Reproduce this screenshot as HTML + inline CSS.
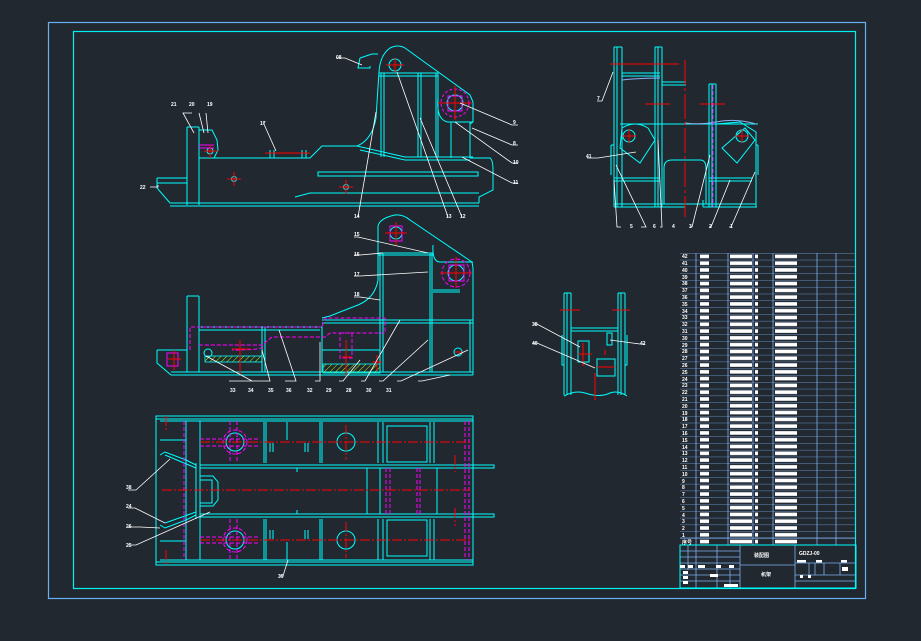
<!DOCTYPE html>
<html><head><meta charset="utf-8"><style>
html,body{margin:0;padding:0;background:#212830;}
svg{display:block}
text{font-family:"Liberation Sans","Noto Sans CJK SC",sans-serif;fill:#fff;font-size:5px;font-weight:bold}
</style></head><body>
<svg width="921" height="641" viewBox="0 0 921 641" xmlns="http://www.w3.org/2000/svg">
<defs>
<pattern id="rows" x="680" y="253" width="176" height="6.79" patternUnits="userSpaceOnUse">
<line x1="0" y1="0" x2="176" y2="0" stroke="#7fb0f0" stroke-width="0.8"/>
<rect x="20" y="1.6" width="9" height="3.6" fill="#fff"/>
<rect x="50" y="1.6" width="22" height="3.6" fill="#fff"/>
<rect x="75" y="1.6" width="3" height="3.6" fill="#fff"/>
<rect x="95" y="1.6" width="22" height="3.6" fill="#fff"/>
</pattern>
<pattern id="hatch" width="4" height="4" patternUnits="userSpaceOnUse" patternTransform="rotate(45)">
<line x1="0" y1="0" x2="0" y2="4" stroke="#b0ff00" stroke-width="1"/>
</pattern>
</defs>
<rect width="921" height="641" fill="#212830"/>
<!-- frames -->
<rect x="48.5" y="22.5" width="817" height="576" fill="none" stroke="#6ab0f5" stroke-width="1.2"/>
<rect x="73.5" y="31.5" width="782" height="557" fill="none" stroke="#00f0f0" stroke-width="1.2"/>

<g fill="none" stroke="#00ffff" stroke-width="1">
<!-- VIEW 1 -->
<path d="M170 206 H479 M170 203 H479"/>
<path d="M187 127 V205 M199 127 V205 M187 127 H199"/>
<path d="M157 178 H187 M157 183 H187 M157 178 V188 L170 203"/>
<path d="M199 130 H212 L217 140 L218 150 L214 158"/>
<path d="M199 158 H310 L322 146 H357 Q372 140 376 118 L379 72"/>
<path d="M379 72 Q380 55 390 48 Q398 44 405 48 L470 95 L473 102 V122 L470 124 V158"/>
<path d="M379 73 H438 M379 76 H438 M381 73 V157 M384 73 V157 M418 73 V157 M421 73 V157 M436 73 V157 M438 73 V157"/>
<path d="M438 98 Q436 120 448 122 H473 M451 122 V158 M470 122 V158"/>
<path d="M357 146 L405 157 H473 M360 150 L405 160 H470"/>
<path d="M470 158 H490 Q493 160 493 170 V190 L479 197 V203"/>
<path d="M318 172 H478 V176 H318 Z"/>
<path d="M295 197 L310 193 H479"/>
<path d="M360 58 L372 54 H378 M360 58 L358 68 H370 V66"/>
<path d="M270 150 V158 M274 150 V158 M302 150 V158 M306 150 V158"/>
<circle cx="395" cy="65" r="6"/><circle cx="210" cy="151" r="3"/>
<circle cx="455" cy="103" r="8"/><circle cx="234" cy="179" r="2.5"/><circle cx="346" cy="187" r="2.5"/>
</g>
<g stroke="#ff00ff" fill="none" stroke-width="1"><circle cx="455" cy="103" r="14" stroke-dasharray="3 2"/><rect x="448" y="96" width="14" height="15"/><path d="M199 145 H214 M199 148 H214"/></g>
<g stroke="#ff0000" stroke-width="1"><path d="M386 65 H404 M395 58 V72 M438 103 H472 M455 86 V120 M204 151 H218 M210 145 V158 M227 179 H241 M234 172 V186 M339 187 H353 M346 180 V194 M265 153 H310"/></g>

<!-- VIEW 2 -->
<g fill="none" stroke="#00ffff" stroke-width="1">
<path d="M171 375 H473 M171 372 H473 M187 296 V372 M199 296 V372 M187 296 H199"/>
<path d="M157 350 H187 M157 350 V363 L171 375"/>
<path d="M199 327 H322 V372 M199 330 H320 M262 327 V372 M265 327 V372"/>
<path d="M322 318 L330 316 Q345 310 358 305 Q375 298 378 280 V226 Q380 218 395 215 Q403 214 410 220 L472 262 L473 268 V375"/>
<path d="M322 320 H473 M322 323 H473 M380 253 V372 M383 253 V372 M430 253 V372 M432 253 V372 M470 320 V372"/>
<path d="M378 253 H433 M378 255 H433 M433 245 Q432 262 440 262 H473 M433 290 H460 M433 292 H460"/>
<path d="M380 350 H322"/>
<circle cx="456" cy="273" r="8"/><circle cx="208" cy="353" r="4"/><circle cx="458" cy="352" r="4"/>
<circle cx="396" cy="233" r="6"/>
</g>
<rect x="205" y="356" width="57" height="6" fill="url(#hatch)" stroke="#00ffff" stroke-width="0.8"/>
<rect x="323" y="364" width="57" height="9" fill="url(#hatch)" stroke="#00ffff" stroke-width="0.8"/>
<g fill="none" stroke="#ff00ff" stroke-width="1" stroke-dasharray="4 2">
<path d="M190 350 V327 H322 L325 318 H385 V333 H330 L325 337 H272 L262 345 H199"/>
<path d="M205 345 H262 Q270 350 232 350"/>
<rect x="340" y="333" width="12" height="25"/>
<circle cx="456" cy="273" r="14"/>
</g>
<g fill="none" stroke="#ff00ff"><rect x="390" y="226" width="12" height="15"/><rect x="167" y="353" width="11" height="13"/><rect x="449" y="265" width="15" height="16"/></g>
<g stroke="#ff0000"><path d="M385 233 H407 M396 222 V245 M440 273 H472 M456 257 V288 M232 349 H250 M240 340 V375 M168 359 H181 M174 350 V370 M346 340 V375 M342 357 H352 M372 362 H382 M377 355 V370 M455 352 H462"/></g>

<!-- VIEW 3 plan -->
<g fill="none" stroke="#00ffff" stroke-width="1">
<rect x="156" y="416" width="317" height="149"/>
<path d="M156 419 H473 M156 562 H473 M160 421 H473 M160 560 H473"/>
<path d="M200 465 H494 V468 H200 M200 514 H494 V517 H200"/>
<path d="M186 421 V560 M200 421 V560 M160 440 H186 M160 541 H186 M196 463 V519"/>
<path d="M264 422 V463 M266 422 V463 M320 422 V463 M322 422 V463 M378 422 V463 M383 422 V463 M430 422 V463 M434 422 V463"/>
<path d="M264 519 V560 M266 519 V560 M320 519 V560 M322 519 V560 M378 519 V560 M383 519 V560 M430 519 V560 M434 519 V560"/>
<path d="M380 468 V514 M437 468 V514 M367 468 V514 M297 468 H367 M297 514 H367 M297 468 V472 M297 514 V510"/>
<path d="M200 476 H213 L218 482 V500 L213 506 H200 M200 480 H212 V503 H200"/>
<path d="M160 455 L165 452 L186 460 L196 465 M165 455 L196 468 M160 525 L165 528 L186 520 L196 515 M165 523 L196 512"/>
<rect x="387" y="426" width="40" height="36"/><rect x="387" y="520" width="40" height="36"/>
<circle cx="235" cy="442" r="9"/><circle cx="346" cy="442" r="9"/><circle cx="235" cy="540" r="9"/><circle cx="346" cy="540" r="9"/>
<path d="M270 443 V452 M273 443 V452 M305 443 V452 M308 443 V452 M270 530 V539 M273 530 V539 M305 530 V539 M308 530 V539 M287 422 V440 M287 542 V560"/>
</g>
<g fill="none" stroke="#ff00ff" stroke-width="1" stroke-dasharray="4 2">
<path d="M200 439 H260 M200 446 H260 M200 537 H260 M200 543 H260 M230 421 V463 M237 421 V463 M230 519 V560 M237 519 V560 M184 421 V560 M469 421 V560 M465 421 V560 M390 468 V514 M386 468 V514 M420 468 V514 M417 468 V514"/>
<circle cx="235" cy="442" r="12"/><circle cx="235" cy="540" r="12"/>
</g>
<g stroke="#ff0000" stroke-width="1" stroke-dasharray="10 2 2 2"><path d="M162 490 H470 M200 442 H470 M200 540 H470 M346 425 V460 M346 522 V558 M455 455 V472 M455 508 V526 M166 416 V432 M166 550 V566"/></g>

<!-- VIEW 4 end -->
<g fill="none" stroke="#00ffff" stroke-width="1">
<path d="M614 47 V207 M617 47 V207 M622 47 V207 M614 47 H622 M655 47 V207 M658 47 V207 M662 47 V207 M655 47 H662"/>
<path d="M709 84 V207 M712 84 V207 M716 84 V207 M709 84 H716"/>
<path d="M614 204 H756 M614 207 H685 M703 207 H757 M685 207 V200 M703 207 V200"/>
<path d="M622 73 H660 M622 76 H660 M662 82 H686 M662 85 H686"/>
<path d="M620 124 H758 M622 128 Q635 120 648 128 L655 140 L640 163 L620 148 Z M716 124 L740 122 L756 132 V207 M745 128 L755 140 L737 163 L722 148 Z"/>
<path d="M614 178 H660 M614 181 H660 M709 178 H752 M709 181 H752"/>
<path d="M664 204 V168 Q664 160 672 160 H700 Q706 160 706 168 V204"/>
<path d="M611 145 V175 M614 145 H611 M758 145 V175 M756 145 H758"/>
<circle cx="629" cy="136" r="6"/><circle cx="742" cy="136" r="6"/>
</g>
<path d="M622 80 Q640 78 660 78 M685 123 Q700 125 716 122 M716 122 Q735 118 756 124" stroke="#8ab0f5" fill="none"/>
<g stroke="#ff0000" stroke-width="1"><path d="M685 60 V217" stroke-dasharray="25 3 3 3"/><path d="M610 64 H679 M645 104 H670 M700 104 H725 M622 136 H636 M629 129 V143 M735 136 H749 M742 129 V143"/></g>
<path d="M713 85 V207" stroke="#ff00ff" stroke-dasharray="4 2"/>

<!-- VIEW 5 small -->
<g fill="none" stroke="#00ffff" stroke-width="1">
<path d="M564 293 V395 M567 293 V395 M571 293 V395 M564 293 H571 M618 293 V395 M621 293 V395 M625 293 V395 M618 293 H625"/>
<path d="M571 328 H618 M571 331 H618 M562 335 V365 H564 M627 335 V365 H625"/>
<rect x="578" y="341" width="11" height="21"/><rect x="597" y="359" width="18" height="17"/><rect x="607" y="333" width="5" height="12"/>
<path d="M564 396 Q575 390 585 393 Q600 398 610 393 Q618 390 627 396"/>
</g>
<g stroke="#ff0000"><path d="M560 310 H580 M612 310 H630 M583 343 V366 M578 354 H592 M597 367 H615 M595 373 V400 M605 350 V355"/></g>

<!-- leaders -->
<g stroke="#fff" stroke-width="0.8" fill="none">
<path d="M336 58 H345 L362 65 M397 72 L448 217 M420 118 L462 217 M376 112 L358 217 M460 103 L512 125 H518 M472 128 L512 145 H518 M455 122 L512 163 H518 M462 157 L512 183 H518 M192 113 L183 113 L194 133 M199 113 L204 133 M206 113 L208 133 M263 122 L276 151 M150 187 L158 187 L158 185"/>
<path d="M354 237 H358 L428 253 M354 255 H360 L383 253 M354 276 H360 L428 272 M354 297 H360 L380 300 M229 381 H252 L206 356 M248 381 H270 L262 350 M285 381 H296 L279 330 M315 381 H320 L320 342 M339 381 H343 L360 360 M361 381 H365 L400 320 M379 381 H383 L428 340 M397 381 H401 L468 350 M418 381 H422 L450 375"/>
<path d="M128 490 H136 L170 459 M128 508 H135 L165 523 M128 527 H140 L160 528 M128 545 H136 L210 512 M279 576 H283 L288 560"/>
<path d="M597 101 H602 L613 72 M587 158 H598 L636 152 M621 227 H617 L614 180 M641 227 H646 L616 165 M660 227 H662 L658 140 M690 227 H692 L710 155 M709 227 H711 L730 180 M729 227 H731 L755 172"/>
<path d="M533 324 H537 L580 347 M533 343 H537 L595 368 M645 344 H640 L610 340"/>
</g>
<g>
<text x="336" y="59">08</text><text x="446" y="218">13</text><text x="460" y="218">12</text><text x="354" y="218">14</text>
<text x="513" y="124">9</text><text x="513" y="145">8</text><text x="513" y="164">10</text><text x="513" y="184">11</text>
<text x="171" y="106">21</text><text x="189" y="106">20</text><text x="207" y="106">19</text><text x="260" y="125">17</text><text x="140" y="189">22</text>
<text x="354" y="236">15</text><text x="354" y="256">16</text><text x="354" y="276">17</text><text x="354" y="296">18</text>
<text x="230" y="392">33</text><text x="248" y="392">34</text><text x="268" y="392">35</text><text x="286" y="392">36</text><text x="307" y="392">32</text><text x="326" y="392">29</text><text x="346" y="392">28</text><text x="366" y="392">30</text><text x="386" y="392">31</text>
<text x="126" y="489">38</text><text x="126" y="508">24</text><text x="126" y="528">26</text><text x="126" y="547">25</text><text x="278" y="578">39</text>
<text x="597" y="100">7</text><text x="586" y="158">41</text><text x="630" y="228">5</text><text x="653" y="228">6</text><text x="672" y="228">4</text><text x="689" y="228">3</text><text x="709" y="228">2</text><text x="730" y="228">1</text>
<text x="532" y="326">38</text><text x="532" y="345">40</text><text x="640" y="345">42</text>
</g>

<!-- parts table -->
<rect x="680" y="253" width="176" height="292" fill="url(#rows)"/>
<g stroke="#7fb0f0" stroke-width="0.8"><path d="M696 253 V545 M728 253 V545 M753 253 V545 M773 253 V545 M817 253 V545 M836 253 V545 M680 538 H856"/></g>
<g>
<text x="682" y="258">42</text><text x="682" y="265">41</text><text x="682" y="272">40</text><text x="682" y="279">39</text><text x="682" y="285">38</text><text x="682" y="292">37</text><text x="682" y="299">36</text><text x="682" y="306">35</text><text x="682" y="313">34</text><text x="682" y="319">33</text><text x="682" y="326">32</text><text x="682" y="333">31</text><text x="682" y="340">30</text><text x="682" y="347">29</text><text x="682" y="353">28</text><text x="682" y="360">27</text><text x="682" y="367">26</text><text x="682" y="374">25</text><text x="682" y="381">24</text><text x="682" y="387">23</text><text x="682" y="394">22</text><text x="682" y="401">21</text><text x="682" y="408">20</text><text x="682" y="415">19</text><text x="682" y="421">18</text><text x="682" y="428">17</text><text x="682" y="435">16</text><text x="682" y="442">15</text><text x="682" y="449">14</text><text x="682" y="455">13</text><text x="682" y="462">12</text><text x="682" y="469">11</text><text x="682" y="476">10</text><text x="682" y="483">9</text><text x="682" y="489">8</text><text x="682" y="496">7</text><text x="682" y="503">6</text><text x="682" y="510">5</text><text x="682" y="517">4</text><text x="682" y="523">3</text><text x="682" y="530">2</text><text x="682" y="537">1</text><text x="682" y="544">序号</text>
</g>
<!-- title block -->
<g fill="none" stroke="#7fb0f0" stroke-width="0.8">
<path d="M680 551 H740 M680 557 H740 M680 563 H740 M680 569 H740 M680 575 H740 M680 581 H740 M688 545 V570 M696 545 V588 M717 545 V588 M730 570 V588 M740 545 V588 M740 565 H795 M795 545 V588 M795 563 H856 M795 575 H856 M795 581 H856 M809 563 V575 M815 563 V575 M824 563 V575 M840 563 V575"/>
</g>
<rect x="680" y="545" width="176" height="43" fill="none" stroke="#00ffff" stroke-width="1"/>
<text x="754" y="557" font-size="7">装配图</text><text x="761" y="576" font-size="7">机架</text><text x="799" y="555" font-size="6">GDZJ-00</text>
<g fill="#fff"><rect x="680" y="565" width="5" height="3"/><rect x="688" y="565" width="5" height="3"/><rect x="698" y="565" width="7" height="3"/><rect x="716" y="565" width="5" height="3"/><rect x="729" y="565" width="5" height="3"/><rect x="683" y="571" width="5" height="3"/><rect x="683" y="576" width="5" height="3"/><rect x="683" y="581" width="5" height="3"/><rect x="710" y="574" width="8" height="3"/><rect x="724" y="584" width="14" height="3"/><rect x="797" y="560" width="9" height="2.5"/><rect x="816" y="560" width="6" height="2.5"/><rect x="841" y="560" width="6" height="2.5"/><rect x="842" y="567" width="6" height="4"/><rect x="800" y="575" width="3" height="3"/><rect x="808" y="575" width="3" height="3"/></g>
</svg>
</body></html>
